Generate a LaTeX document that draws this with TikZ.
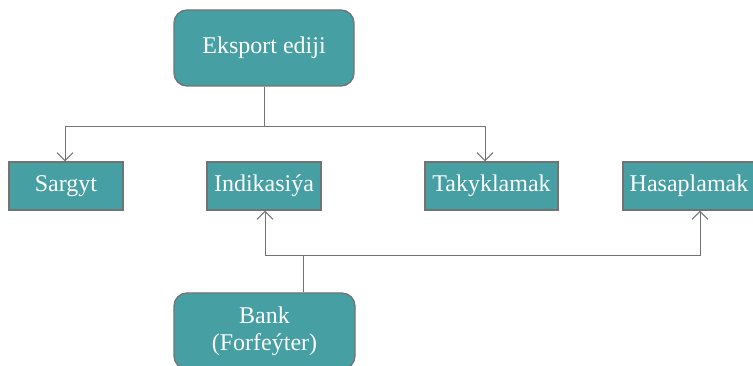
\documentclass[tikz,border=0pt]{standalone}
\usepackage{fontspec}
\setmainfont{Liberation Serif}
\usepackage{tikz}
\usetikzlibrary{arrows.meta}

\definecolor{tealbox}{HTML}{469FA3}
\definecolor{edgegray}{HTML}{737373}

\begin{document}
\begin{tikzpicture}[x=1pt,y=-1pt,
  box/.style={draw=edgegray,line width=1.3pt,fill=tealbox,text=white,inner sep=0pt,
    font=\fontsize{24}{27}\selectfont,align=center,minimum height=48pt},
  roundbox/.style={box,rounded corners=13pt,minimum width=180pt,minimum height=76pt},
  arr/.style={draw=edgegray,line width=1pt,-{Straight Barb[length=8pt,width=16pt]}},
  link/.style={draw=edgegray,line width=1pt}]
\clip (0,0) rectangle (753,366);
\useasboundingbox (0,0) rectangle (753,366);
\node [roundbox] (exp) at (264,48) {Eksport ediji};
\node [box,minimum width=114pt] (sar) at (66,186) {Sargyt};
\node [box,minimum width=114pt] (ind) at (264,186) {Indikasiýa};
\node [box,minimum width=133pt] (tak) at (491.5,186) {Takyklamak};
\node [box,minimum width=132pt] (has) at (689,186) {Hasaplamak};
\node [roundbox,minimum width=181pt] (bank) at (264.5,331) {Bank\\(Forfeýter)};
% exporter to its branches
\coordinate (split) at (264,127);
\draw [link] (exp) -- (split);
\draw [arr] (split) -| ([xshift=-1pt]sar.north);
\draw [arr] (split) -| ([xshift=-6.5pt]tak.north);
% bank to its branches
\coordinate (join) at (303,256);
\draw [link] ([xshift=38.5pt]bank.north) -- (join);
\draw [arr] (join) -| ([xshift=1pt]ind.south);
\draw [arr] (join) -| ([xshift=11pt]has.south);
\end{tikzpicture}
\end{document}
